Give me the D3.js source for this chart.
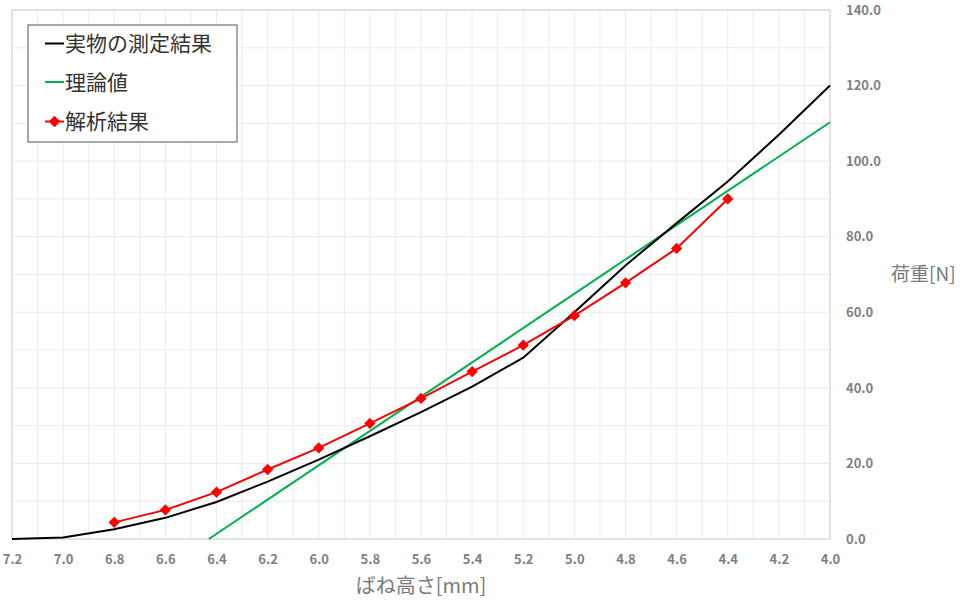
<!DOCTYPE html>
<html lang="ja">
<head>
<meta charset="UTF-8"/>
<title>ばね高さと荷重</title>
<script src="https://d3js.org/d3.v7.min.js"></script>
<style>
  body { margin: 0; background: #fff; }
  text { font-family: "Noto Sans CJK JP", "Open Sans", sans-serif; }
</style>
</head>
<body>
<script>
    // series data [ばね高さ(mm), 荷重(N)]
    var measured = [
        [7.2, 0], [7.0, 0.4], [6.8, 2.6], [6.6, 5.6], [6.4, 9.8], [6.2, 15.2],
        [6.0, 21], [5.8, 27.2], [5.6, 33.6], [5.4, 40.3], [5.2, 48], [5.0, 60],
        [4.8, 72.4], [4.6, 83.6], [4.4, 94.6], [4.2, 107], [4.0, 120]
    ];
    var theory = [[6.43, 0], [4.0, 110.3]];
    var analysis = [
        [6.8, 4.4], [6.6, 7.7], [6.4, 12.4], [6.2, 18.4], [6.0, 24.1], [5.8, 30.6],
        [5.6, 37.2], [5.4, 44.3], [5.2, 51.3], [5.0, 59.1], [4.8, 67.8], [4.6, 76.9], [4.4, 90.0]
    ];
    var seriesNames = ["実物の測定結果", "理論値", "解析結果"];
    var xTicks = d3.range(72, 39, -2).map(function(d){ return d / 10; });
    var yTicks = [0, 20, 40, 60, 80, 100, 120, 140];

    var w = 960, h = 602;
    var plotL = 12, plotR = 830, plotT = 10, plotB = 539;

    var svg = d3.select("body").append("svg")
                .attr("width", w)
                .attr("height", h);

    // reversed x axis
    var xScale = d3.scaleLinear().domain([7.2, 4.0]).range([plotL, plotR]);
    var yScale = d3.scaleLinear().domain([0, 140]).range([plotB, plotT]);

    // minor grid
    var grid = svg.append("g");
    grid.selectAll("line.vx")
        .data(d3.range(71, 40, -1).map(function(d){ return d / 10; }))
        .enter().append("line")
        .attr("x1", function(d){ return xScale(d); })
        .attr("x2", function(d){ return xScale(d); })
        .attr("y1", plotT).attr("y2", plotB)
        .attr("stroke", "#ececec").attr("stroke-width", 1);
    grid.selectAll("line.hy")
        .data(d3.range(10, 140, 10))
        .enter().append("line")
        .attr("x1", plotL).attr("x2", plotR)
        .attr("y1", function(d){ return yScale(d); })
        .attr("y2", function(d){ return yScale(d); })
        .attr("stroke", "#ececec").attr("stroke-width", 1);

    // plot frame
    svg.append("rect")
        .attr("x", plotL).attr("y", plotT)
        .attr("width", plotR - plotL).attr("height", plotB - plotT)
        .attr("fill", "none").attr("stroke", "#d0d0d0").attr("stroke-width", 1.2);

    // x axis ticks
    var xAxis = d3.axisBottom(xScale).tickValues(xTicks).tickSize(0).tickPadding(16)
                  .tickFormat(d3.format(".1f"));
    var gx = svg.append("g").attr("transform", "translate(0," + plotB + ")").call(xAxis);
    gx.select(".domain").remove();
    gx.selectAll("text")
      .attr("font-family", "'Open Sans', sans-serif")
      .attr("font-size", "13px").attr("font-weight", "bold").attr("fill", "#808080");

    // y axis on the right
    var yAxis = d3.axisRight(yScale).tickValues(yTicks).tickSize(0).tickPadding(16)
                  .tickFormat(d3.format(".1f"));
    var gy = svg.append("g").attr("transform", "translate(" + plotR + ",0)").call(yAxis);
    gy.select(".domain").remove();
    gy.selectAll("text")
      .attr("font-family", "'Open Sans', sans-serif")
      .attr("font-size", "13px").attr("font-weight", "bold").attr("fill", "#808080");

    // axis titles
    svg.append("text")
        .attr("x", 421).attr("y", 593)
        .attr("text-anchor", "middle")
        .attr("font-size", "20px").attr("fill", "#7a7a7a")
        .text("ばね高さ[mm]");
    svg.append("text")
        .attr("x", 891).attr("y", 281)
        .attr("font-size", "19px").attr("fill", "#7a7a7a")
        .text("荷重[N]");

    var line = d3.line()
        .x(function(d){ return xScale(d[0]); })
        .y(function(d){ return yScale(d[1]); });

    svg.append("path").datum(theory)
        .attr("d", line).attr("fill", "none")
        .attr("stroke", "#00b050").attr("stroke-width", 2);
    svg.append("path").datum(measured)
        .attr("d", line).attr("fill", "none")
        .attr("stroke", "#000").attr("stroke-width", 2);
    svg.append("path").datum(analysis)
        .attr("d", line).attr("fill", "none")
        .attr("stroke", "#ff0000").attr("stroke-width", 2);

    var diamond = d3.symbol().type(d3.symbolSquare).size(64);
    svg.selectAll("path.mk")
        .data(analysis)
        .enter().append("path")
        .attr("class", "mk")
        .attr("d", diamond)
        .attr("transform", function(d){ return "translate(" + xScale(d[0]) + "," + yScale(d[1]) + ") rotate(45)"; })
        .attr("fill", "#ff0000");

    // legend
    var legend = svg.append("g");
    legend.append("rect")
        .attr("x", 28).attr("y", 25).attr("width", 209).attr("height", 117)
        .attr("fill", "#fff").attr("stroke", "#707070").attr("stroke-width", 1.2);
    var colors = ["#000", "#00b050", "#ff0000"];
    var rowY = [43.5, 82, 121.5];
    seriesNames.forEach(function(name, i) {
        legend.append("line")
            .attr("x1", 45).attr("x2", 64)
            .attr("y1", rowY[i]).attr("y2", rowY[i])
            .attr("stroke", colors[i]).attr("stroke-width", 2);
        if (i === 2) {
            legend.append("path")
                .attr("d", diamond)
                .attr("transform", "translate(54.5," + rowY[i] + ") rotate(45)")
                .attr("fill", colors[i]);
        }
        legend.append("text")
            .attr("x", 65).attr("y", rowY[i] + 7.5)
            .attr("font-size", "21px").attr("fill", "#333")
            .text(name);
    });
</script>
</body>
</html>
